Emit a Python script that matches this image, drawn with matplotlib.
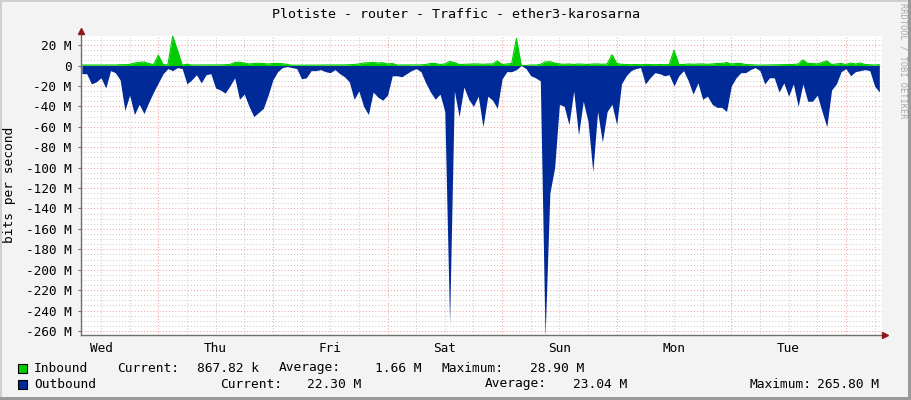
import numpy as np
import matplotlib
matplotlib.use("Agg")
from matplotlib import pyplot as plt
from matplotlib.patches import Rectangle

# hourly samples in Mbit/s, first sample Wed 08:00 (hours counted from Wed 00:00)
start_hour = 8
inbound = [0.5, 0.5, 0.5, 0.5, 0.5, 0.5, 0.5, 0.5, 0.8, 0.8,
           1.0, 2.5, 3.0, 3.5, 2.0, 0.8, 10.0, 1.0, 0.5, 28.9,
           15.0, 0.5, 1.2, 0.5, 0.5, 0.4, 0.4, 0.5, 0.5, 0.6,
           0.8, 1.0, 3.0, 3.2, 2.5, 1.5, 2.0, 2.2, 2.0, 1.5,
           2.0, 2.0, 1.8, 1.0, 0.3, 0.3, 0.3, 0.4, 0.4, 0.4,
           0.5, 0.5, 0.5, 0.6, 0.6, 0.6, 0.8, 1.0, 1.5, 2.5,
           2.8, 3.0, 2.5, 2.8, 1.5, 2.0, 0.5, 0.5, 0.6, 0.4,
           0.5, 0.6, 1.0, 2.0, 2.0, 1.0, 1.5, 4.0, 3.0, 1.0,
           1.2, 1.5, 1.5, 1.5, 1.2, 1.5, 1.5, 4.5, 1.0, 1.5,
           2.0, 26.5, 0.0, 0.0, 0.5, 0.5, 1.0, 3.5, 3.8, 2.5,
           1.5, 1.2, 1.5, 1.0, 1.5, 1.2, 1.0, 1.5, 1.5, 1.2,
           1.5, 10.5, 2.0, 1.2, 1.0, 0.8, 1.0, 0.8, 1.0, 1.0,
           0.8, 1.0, 0.8, 1.0, 15.0, 1.0, 1.0, 1.5, 1.2, 1.5,
           1.5, 1.2, 1.5, 2.0, 2.0, 3.0, 1.5, 2.0, 2.0, 1.0,
           0.8, 0.5, 0.4, 0.5, 0.5, 0.6, 0.8, 1.0, 1.0, 1.0,
           1.5, 5.5, 2.0, 2.0, 1.5, 3.0, 4.5, 1.0, 1.5, 2.0,
           1.0, 2.5, 1.5, 2.5, 1.0, 0.8, 0.5, 0.87]
outbound = [8, 8, 18, 16, 12, 22, 5, 7, 14, 44,
            29, 48, 38, 47, 36, 26, 17, 8, 3, 5,
            2, 3, 18, 14, 9, 17, 9, 8, 22, 24,
            27, 20, 12, 33, 28, 40, 50, 46, 42, 29,
            14, 6, 2, 1, 2, 3, 13, 12, 5, 5,
            4, 6, 7, 4, 8, 11, 16, 33, 25, 40,
            48, 26, 31, 34, 29, 10, 10, 11, 8, 5,
            3, 6, 17, 26, 33, 28, 45, 252, 25, 50,
            21, 33, 40, 30, 60, 30, 34, 42, 13, 6,
            6, 4, 0, 3, 10, 12, 15, 265.8, 125, 100,
            38, 40, 58, 25, 68, 35, 55, 104, 45, 75,
            45, 38, 58, 18, 10, 5, 3, 2, 18, 12,
            7, 8, 10, 9, 20, 10, 5, 15, 28, 17,
            33, 30, 38, 41, 41, 45, 20, 12, 7, 7,
            4, 2, 5, 18, 12, 12, 26, 17, 30, 18,
            40, 18, 35, 35, 29, 45, 60, 24, 18, 6,
            3, 10, 6, 5, 4, 5, 20, 26]

days = ["Wed", "Thu", "Fri", "Sat", "Sun", "Mon", "Tue"]
y_ticks = list(range(20, -261, -20))

title = "Plotiste - router - Traffic - ether3-karosarna"
series_names = ["Inbound", "Outbound"]
series_colors = ["#00CC00", "#002A97"]
stat_labels = ["Current:", "Average:", "Maximum:"]
inbound_stats = ["867.82 k", "1.66 M", "28.90 M"]
outbound_stats = ["22.30 M", "23.04 M", "265.80 M"]

W, H = 911, 400
MONO = "DejaVu Sans Mono"
plt.rcParams["font.family"] = MONO

hours = start_hour + np.arange(len(outbound))
inb = np.array(inbound)
outb = -np.array(outbound)

fig = plt.figure(figsize=(W / 100, H / 100), dpi=100, facecolor="#F3F3F3")
top, bottom, left, right = 35.5, 335, 81, 882
ax = fig.add_axes([left / W, 1 - bottom / H, (right - left) / W, (bottom - top) / H])
ax.set_facecolor("white")

# grid: grey every 6 h / 5 M, red every day / 20 M
dots = (0, (1, 2))
for h in range(6, 180, 6):
    c = "#F4A0A0" if h % 24 == 0 else "#CCCCCC"
    ax.axvline(h, color=c, lw=0.75, linestyle=dots, zorder=0)
for v in range(25, -265, -5):
    c = "#F4A0A0" if v % 20 == 0 else "#CCCCCC"
    ax.axhline(v, color=c, lw=0.75, linestyle=dots, zorder=0)

ax.fill_between(hours, 0, inb, color=series_colors[0], lw=0, zorder=2)
ax.plot(hours, inb, color=series_colors[0], lw=0.8, zorder=2)
ax.fill_between(hours, 0, outb, color=series_colors[1], lw=0, zorder=3)

ax.set_xlim(7.81, 175.56)
ax.set_ylim(-263.9, 29.4)
for s in ax.spines.values():
    s.set_visible(False)

ax.set_xticks([12 + 24 * i for i in range(len(days))])
ax.set_xticklabels(days)
ax.tick_params(axis="x", length=0, pad=5, labelsize=9.2)
ax.set_yticks(y_ticks)
ax.set_yticklabels([("%d M" % v) if v != 0 else "0" for v in y_ticks])
ax.tick_params(axis="y", length=2, width=0.8, color="#707070", pad=5, labelsize=9.2)

# axes with arrows
axis_col = "#707070"
ax.plot([0, 0], [0, 1.008], transform=ax.transAxes, color=axis_col, lw=1, clip_on=False, zorder=5)
ax.plot([0, 1.0025], [0, 0], transform=ax.transAxes, color=axis_col, lw=1, clip_on=False, zorder=5)
ax.plot([0], [1.0135], marker="^", ms=5, color="#8B1A1A", transform=ax.transAxes, clip_on=False, zorder=6)
ax.plot([1.004], [0], marker=">", ms=5, color="#8B1A1A", transform=ax.transAxes, clip_on=False, zorder=6)

fig.text(0.5, 1 - 14 / H, title, ha="center", va="center", fontsize=9.6)
fig.text(10 / W, 1 - 185 / H, "bits per second", rotation=90, ha="center", va="center", fontsize=9.3)
fig.text(903 / W, 1 - 61 / H, "RRDTOOL / TOBI OETIKER", rotation=270, ha="center", va="center",
         fontsize=6.3, color="#A8A8A8")

# legend rows
row_y = [368, 384]
stat_x = [[117, 279, 441], [220, 485, 750]]
value_x = [[197, 375, 530], [307, 573, 817]]
for r, (name, col, stats) in enumerate(zip(series_names, series_colors, [inbound_stats, outbound_stats])):
    y = 1 - row_y[r] / H
    fig.add_artist(Rectangle((17.5 / W, 1 - (row_y[r] + 4.5) / H), 9 / W, 9 / H,
                             transform=fig.transFigure, facecolor=col, edgecolor="black", lw=0.8))
    fig.text(34 / W, y, name, ha="left", va="center", fontsize=9.3)
    for lab, sx, val, vx in zip(stat_labels, stat_x[r], stats, value_x[r]):
        fig.text(sx / W, y, lab, ha="left", va="center", fontsize=9.3)
        fig.text(vx / W, y, val, ha="left", va="center", fontsize=9.3)

# outer frame, light top/left and dark bottom/right
fig.add_artist(Rectangle((0, 1 - 2 / H), 1, 2 / H, transform=fig.transFigure, facecolor="#CFCFCF", lw=0))
fig.add_artist(Rectangle((0, 0), 2 / W, 1, transform=fig.transFigure, facecolor="#CFCFCF", lw=0))
fig.add_artist(Rectangle((1 - 3 / W, 0), 3 / W, 1, transform=fig.transFigure, facecolor="#9A9A9A", lw=0))
fig.add_artist(Rectangle((0, 0), 1, 3 / H, transform=fig.transFigure, facecolor="#9A9A9A", lw=0))

fig.savefig("out.png", dpi=100, facecolor=fig.get_facecolor())
